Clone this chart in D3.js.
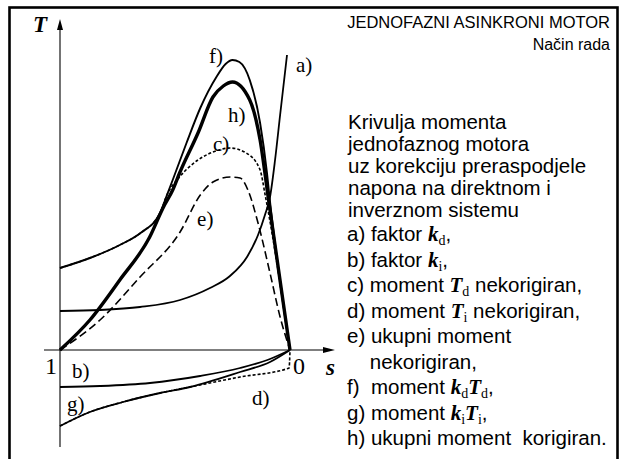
<!DOCTYPE html>
<html>
<head>
<meta charset="utf-8">
<script src="https://cdn.jsdelivr.net/npm/d3@7"></script>
<style>
  html, body { margin: 0; padding: 0; background: #fff; }
  svg { display: block; }
  text { white-space: pre; }
</style>
</head>
<body>
<svg id="chart" width="623" height="459"></svg>
<script>
// Slip s runs from 1 (standstill) to 0 (synchronous speed); T in relative units.
// Each curve: [s, T]
const curveA = [[1, 0.39], [0.826, 0.40], [0.652, 0.43], [0.478, 0.50], [0.348, 0.62], [0.261, 0.74],
                [0.187, 0.93], [0.139, 1.15], [0.109, 1.35], [0.087, 1.53], [0.065, 1.90], [0.043, 2.35], [0.013, 2.95]];
const curveB = [[1, -0.37], [0.826, -0.36], [0.609, -0.33], [0.391, -0.26], [0.217, -0.18], [0.087, -0.09], [0, 0]];
const curveC = [[1, 0.82], [0.87, 0.92], [0.74, 1.05], [0.65, 1.17], [0.565, 1.37], [0.535, 1.55], [0.48, 1.73],
                [0.40, 1.90], [0.335, 1.98], [0.26, 2.02], [0.19, 1.97], [0.13, 1.80], [0.108, 1.55], [0, 0]];
const curveD = [[1, -0.76], [0.87, -0.62], [0.726, -0.52], [0.565, -0.43], [0.435, -0.37], [0.217, -0.27],
                [0.004, -0.18], [0, 0]];
const curveE = [[1, 0], [0.826, 0.30], [0.652, 0.73], [0.478, 1.18], [0.39, 1.55], [0.335, 1.68], [0.26, 1.73],
                [0.217, 1.72], [0.183, 1.60], [0.139, 1.27], [0.087, 0.77], [0.043, 0.33], [0, 0]];
const curveF = [[1, 0.82], [0.87, 0.92], [0.74, 1.05], [0.65, 1.17], [0.565, 1.37], [0.535, 1.55], [0.51, 1.70],
                [0.45, 2.07], [0.39, 2.42], [0.32, 2.73], [0.28, 2.86], [0.25, 2.90], [0.22, 2.88], [0.175, 2.70],
                [0.13, 2.27], [0.10, 1.77], [0.09, 1.55], [0, 0]];
const curveG = [[1, -0.76], [0.87, -0.62], [0.726, -0.52], [0.565, -0.43], [0.435, -0.37], [0.217, -0.22],
                [0.087, -0.12], [0, 0]];
const curveH = [[1, 0], [0.87, 0.30], [0.74, 0.70], [0.61, 1.13], [0.55, 1.43], [0.51, 1.60], [0.48, 1.77],
                [0.40, 2.17], [0.335, 2.53], [0.29, 2.64], [0.25, 2.68], [0.175, 2.50], [0.13, 2.10], [0.095, 1.53], [0, 0]];

// Curve tags and their anchor points [s, T]
const curveTags = ["a)", "b)", "c)", "d)", "e)", "f)", "g)", "h)"];
const tagAnchors = [[-0.026, 2.78], [0.948, -0.28], [0.335, 1.99], [0.165, -0.55], [0.404, 1.24],
                    [0.352, 2.87], [0.970, -0.61], [0.270, 2.28]];

// Slip axis end labels
const slipTicks = [1, 0];
const slipTickLabels = ["1", "0"];

const titleLines = ["JEDNOFAZNI ASINKRONI MOTOR", "Način rada"];
const captionLines = ["Krivulja momenta", "jednofaznog motora", "uz korekciju preraspodjele",
                      "napona na direktnom i", "inverznom sistemu"];
// Legend rows as runs: [text, kind]  kind: "" plain, "sym" bold italic symbol, "sub" subscript
const legendRows = [
  [["a) faktor ", ""], ["k", "sym"], ["d", "sub"], [",", ""]],
  [["b) faktor ", ""], ["k", "sym"], ["i", "sub"], [",", ""]],
  [["c) moment ", ""], ["T", "sym"], ["d", "sub"], [" nekorigiran,", ""]],
  [["d) moment ", ""], ["T", "sym"], ["i", "sub"], [" nekorigiran,", ""]],
  [["e) ukupni moment", ""]],
  [["    nekorigiran,", ""]],
  [["f)  moment ", ""], ["k", "sym"], ["d", "sub"], ["T", "sym"], ["d", "sub"], [",", ""]],
  [["g) moment ", ""], ["k", "sym"], ["i", "sub"], ["T", "sym"], ["i", "sub"], [",", ""]],
  [["h) ukupni moment  korigiran.", ""]]
];

const svg = d3.select("#chart");
const W = 623, H = 459;
svg.append("rect").attr("width", W).attr("height", H).attr("fill", "#fff");

const sansFont = "'Liberation Sans', Arial, Helvetica, sans-serif";
const serifFont = "'Liberation Serif', 'Times New Roman', Times, serif";

// Outer frame
svg.append("rect")
  .attr("x", 9.5).attr("y", 7.5).attr("width", 608).attr("height", 470)
  .attr("fill", "none").attr("stroke", "#000").attr("stroke-width", 2.6);

const x = d3.scaleLinear().domain([1, 0]).range([60, 290]);
const y = d3.scaleLinear().domain([0, 1]).range([350, 250]);

// Axes
const axes = svg.append("g").attr("stroke", "#000").attr("stroke-width", 1.1);
axes.append("line").attr("x1", x(1)).attr("x2", x(1)).attr("y1", 447).attr("y2", 26);
axes.append("line").attr("x1", 44).attr("x2", 328).attr("y1", y(0)).attr("y2", y(0));
svg.append("path").attr("d", `M${x(1)},19 L${x(1) - 3},30 L${x(1) + 3},30 Z`).attr("fill", "#000");
svg.append("path").attr("d", `M335,${y(0)} L323,${y(0) - 3} L323,${y(0) + 3} Z`).attr("fill", "#000");

svg.append("text").attr("x", 33).attr("y", 32)
  .attr("font-family", serifFont).attr("font-size", 23).attr("font-weight", "bold").attr("font-style", "italic")
  .text("T");
svg.append("text").attr("x", 326).attr("y", 375)
  .attr("font-family", serifFont).attr("font-size", 23).attr("font-weight", "bold").attr("font-style", "italic")
  .text("s");

svg.selectAll("text.tick").data(slipTicks).enter().append("text")
  .attr("class", "tick")
  .attr("x", (d, i) => i === 0 ? x(d) - 3 : x(d) + 3)
  .attr("y", 374)
  .attr("text-anchor", (d, i) => i === 0 ? "end" : "start")
  .attr("font-family", serifFont).attr("font-size", 24)
  .text((d, i) => slipTickLabels[i]);

const line = d3.line().x(d => x(d[0])).y(d => y(d[1])).curve(d3.curveMonotoneX);

const series = [
  { data: curveA, w: 1.8, dash: null },
  { data: curveB, w: 1.8, dash: null },
  { data: curveG, w: 1.8, dash: null },
  { data: curveD, w: 1.6, dash: "3,2" },
  { data: curveF, w: 1.9, dash: null },
  { data: curveC, w: 1.6, dash: "3,2" },
  { data: curveE, w: 1.6, dash: "8,4" },
  { data: curveH, w: 3.4, dash: null }
];
svg.append("g").selectAll("path").data(series).enter().append("path")
  .attr("d", d => line(d.data))
  .attr("fill", "none").attr("stroke", "#000")
  .attr("stroke-width", d => d.w)
  .attr("stroke-dasharray", d => d.dash)
  .attr("stroke-linejoin", "round");

svg.append("g").selectAll("text").data(curveTags).enter().append("text")
  .attr("x", (d, i) => x(tagAnchors[i][0]))
  .attr("y", (d, i) => y(tagAnchors[i][1]))
  .attr("font-family", serifFont).attr("font-size", 21)
  .text(d => d);

// Title block
svg.append("g").selectAll("text").data(titleLines).enter().append("text")
  .attr("x", 610).attr("y", (d, i) => 28 + i * 22)
  .attr("text-anchor", "end").attr("font-family", sansFont)
  .attr("font-size", (d, i) => i === 0 ? 16.5 : 16)
  .text(d => d);

svg.append("g").selectAll("text").data(captionLines).enter().append("text")
  .attr("x", 348).attr("y", (d, i) => 128.5 + i * 22)
  .attr("font-family", sansFont).attr("font-size", 20.5)
  .text(d => d);

// Legend
const legend = svg.append("g");
legendRows.forEach((runs, r) => {
  const t = legend.append("text").attr("x", 347).attr("y", 241 + r * 25.5)
    .attr("font-family", sansFont).attr("font-size", 20.5);
  let shifted = false;
  runs.forEach(([txt, kind]) => {
    const ts = t.append("tspan").text(txt);
    if (kind === "sym") {
      ts.attr("font-family", serifFont).attr("font-weight", "bold").attr("font-style", "italic").attr("font-size", 21);
      if (shifted) { ts.attr("dy", -4); shifted = false; }
    } else if (kind === "sub") {
      ts.attr("font-family", serifFont).attr("font-size", 14).attr("dy", 4);
      shifted = true;
    } else {
      if (shifted) { ts.attr("dy", -4); shifted = false; }
    }
  });
});
</script>
</body>
</html>
